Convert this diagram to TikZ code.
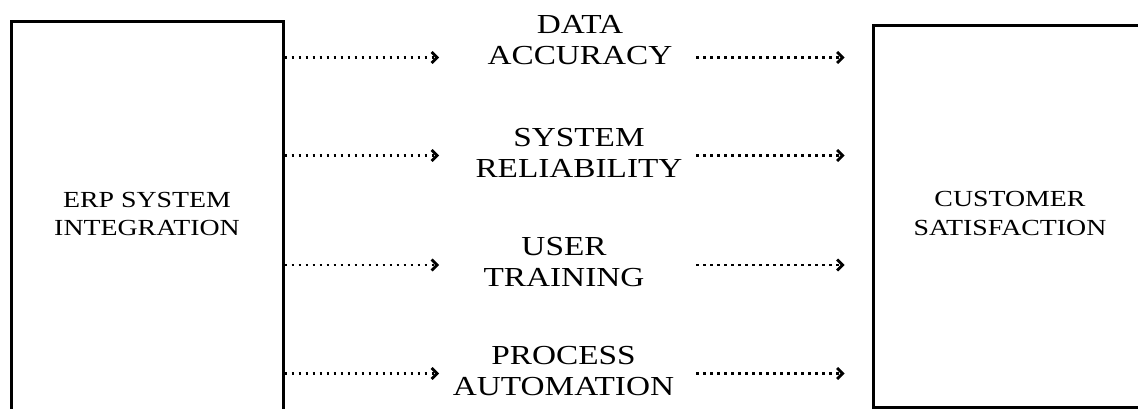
\documentclass[tikz,border=0pt]{standalone}
\usepackage{fontspec}
\setmainfont{Liberation Serif}[FakeStretch=1.21]
\usetikzlibrary{arrows.meta}
\begin{document}
\begin{tikzpicture}[x=1pt,y=-1pt,
  boxnode/.style={draw, line width=3pt, inner sep=0pt},
  boxtext/.style={font=\fontsize{23}{28.5}\selectfont, align=center, inner sep=0pt},
  midtext/.style={font=\fontsize{27.5}{31}\selectfont, align=center, inner sep=0pt},
  flow/.style={line width=2.7pt, dash pattern=on 2.7pt off 4.3pt,
    -{Straight Barb[length=5.5pt,width=11pt,line width=2.8pt]}}
]
\useasboundingbox (0,0) rectangle (1138,409);
% boxes
\node[boxnode, minimum width=272pt, minimum height=410pt] (L) at (147,227) {};
\node[boxnode, minimum width=272pt, minimum height=381pt] (R) at (1009.5,216.5) {};
\node[boxtext] (Ltext) at (147,214) {ERP SYSTEM\\INTEGRATION};
\node[boxtext] (Rtext) at (1010,213.5) {CUSTOMER\\SATISFACTION};
% middle labels
\node[midtext] (m1) at (580,40.5) {DATA\\ACCURACY};
\node[midtext] (m2) at (579,152.5) {SYSTEM\\RELIABILITY};
\node[midtext] (m3) at (564,262) {USER\\TRAINING};
\node[midtext] (m4) at (563.5,371) {PROCESS\\AUTOMATION};
% arrow ends
\foreach \i/\y in {1/57.5,2/155.5,3/265,4/373.5}{
  \coordinate (lt\i) at (439,\y);
  \coordinate (rs\i) at (696,\y);
  \draw[flow] (L.east |- lt\i) -- (lt\i);
  \draw[flow, shorten >=27.5pt] (rs\i) -- (R.west |- rs\i);
}
\end{tikzpicture}
\end{document}
